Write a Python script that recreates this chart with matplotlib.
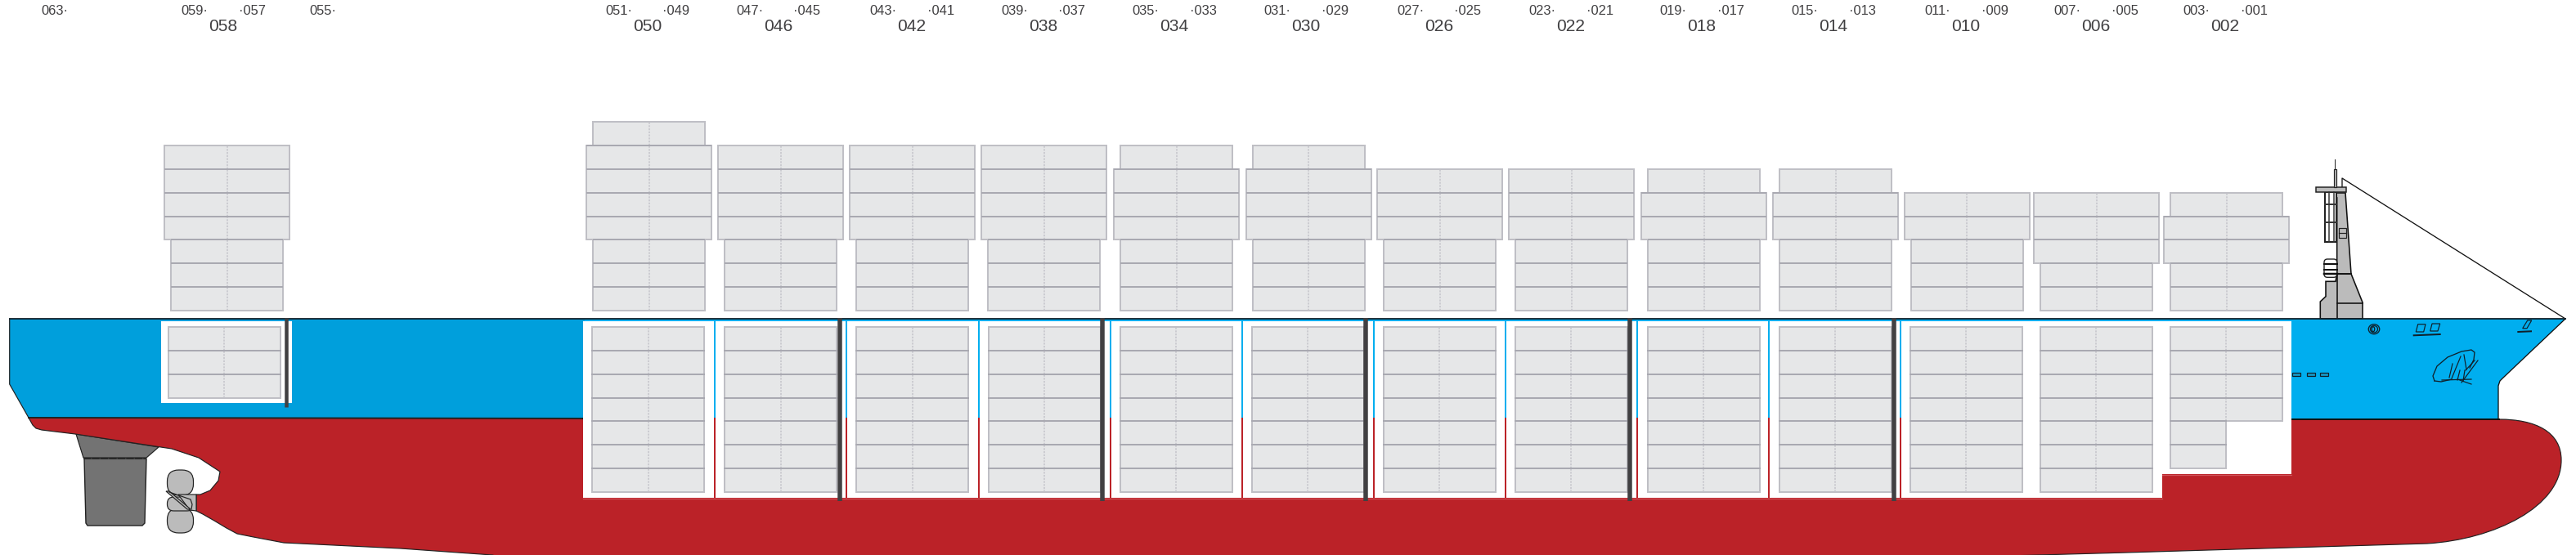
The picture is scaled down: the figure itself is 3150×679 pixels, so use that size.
"""Container ship bay plan, side profile."""

import matplotlib

matplotlib.use("Agg")

import matplotlib.pyplot as plt
from matplotlib.patches import Ellipse, FancyBboxPatch, PathPatch, Polygon, Rectangle
from matplotlib.path import Path

plt.rcParams["font.family"] = ["Liberation Sans", "DejaVu Sans"]

# bays, aft to fore
bay_labels = ["058", "050", "046", "042", "038", "034", "030", "026", "022", "018", "014", "010", "006", "002"]
left_labels = ["059", "051", "047", "043", "039", "035", "031", "027", "023", "019", "015", "011", "007", "003"]
right_labels = ["057", "049", "045", "041", "037", "033", "029", "025", "021", "017", "013", "009", "005", "001"]
extra_labels = ["063", "055"]

# containers on deck: narrow tiers, wide tiers, narrow tiers on top
deck_lower = [3, 3, 3, 3, 3, 3, 3, 3, 3, 3, 3, 3, 2, 2]
deck_wide = [4, 4, 4, 4, 4, 3, 3, 3, 3, 2, 2, 2, 3, 2]
deck_top = [0, 1, 0, 0, 0, 1, 1, 0, 0, 1, 1, 0, 0, 1]
# containers in the hold, full width and half width
hold_full = [3, 7, 7, 7, 7, 7, 7, 7, 7, 7, 7, 7, 7, 4]
hold_half = [0, 0, 0, 0, 0, 0, 0, 0, 0, 0, 0, 0, 0, 2]

# geometry, in pixels of the 3150x679 picture
label_x = [273, 792, 952, 1115, 1276, 1436, 1597, 1760, 1921, 2081, 2242, 2404, 2563, 2721]
extra_x = [67, 395]
deck_x = [277.5, 793.5, 954.5, 1115.5, 1276.5, 1438.5, 1600, 1760.5, 1921.5, 2083.5, 2244.5, 2405, 2563.5, 2722.5]
hold_x = [274, 792.5, 954.5, 1115.5, 1277, 1438, 1599, 1760, 1921, 2083, 2244, 2404, 2563, 2722]
separator_x = [874, 1035, 1197, 1358, 1519, 1680, 1841, 2002, 2163, 2324]
bulkhead_x = [1027, 1348, 1670, 1993, 2316]

stern_hull = [(35, 511), (40, 520), (44, 524), (51, 526), (92, 531), (190, 546), (210, 549), (243, 560),
              (269, 577), (267, 588), (257, 600), (245, 605), (240, 605), (240, 625), (248, 629),
              (262, 637), (277, 646), (290, 653), (310, 657), (347, 664), (490, 671), (602, 679),
              (640, 690), (2100, 690), (2600, 676), (2968, 665)]
stern_blue = [(11.7, 390), (715, 390), (715, 512), (35, 511), (11.7, 470)]
bow_blue = [(715, 390), (3137, 390), (3060, 463), (3057, 466), (3055, 472), (3055, 513), (715, 512)]
rudder_horn = [(93, 531), (194, 547), (179, 560), (102, 560)]
rudder_blade = [(103, 561), (179, 561), (177, 640), (174, 643), (107, 643), (105, 640)]

BLUE_AFT = "#009FDC"
BLUE_FORE = "#00AEEF"
RED = "#BB2228"
GREY = "#BBBBBB"
DARK = "#414042"
BOX_FILL = "#E6E7E8"
BOX_EDGE = "#BFBFC5"
TIER_LINE = "#A9A9B1"
PX = 0.72

TIER = 28.85
DECK_BASE = 380
HOLD_TOP = 400
NARROW = 137
WIDE = 153


def draw_stack(ax, tiers, center, base):
    """tiers is a list of widths from the bottom upwards."""
    y = base
    lines = []
    for n, width in enumerate(tiers):
        ax.add_patch(Rectangle((center - width / 2, y - TIER), width, TIER, fc=BOX_FILL, ec=BOX_EDGE, lw=2 * PX, zorder=5))
        ax.plot([center, center], [y, y - TIER], color="#C4C4CA", lw=1.5 * PX, ls=(0, (1.5, 1)), zorder=6)
        y -= TIER
        if n < len(tiers) - 1:
            lines.append((y, center - width / 2, center + width / 2))
    for line_y, x0, x1 in lines:
        ax.plot([x0, x1], [line_y, line_y], color=TIER_LINE, lw=2 * PX, solid_capstyle="butt", zorder=7)


fig = plt.figure(figsize=(31.5, 6.79), dpi=100)
ax = fig.add_axes([0, 0, 1, 1])
ax.set_xlim(0, 3150)
ax.set_ylim(679, 0)
ax.axis("off")

# hull
ax.add_patch(Polygon(rudder_horn, fc="#737373", ec="#222222", lw=1.2 * PX, zorder=1))
ax.add_patch(Polygon(rudder_blade, fc="#737373", ec="#222222", lw=1.4 * PX, zorder=1))
ax.plot([102, 179], [561, 561], color="#222222", lw=1.5 * PX, ls=(0, (6, 1)), zorder=2)

verts = list(stern_hull)
codes = [Path.MOVETO] + [Path.LINETO] * (len(stern_hull) - 1)
verts += [(3050, 660), (3132, 620), (3132, 563), (3132, 528), (3100, 513), (3056, 513), (35, 511)]
codes += [Path.CURVE4] * 6 + [Path.LINETO]
ax.add_patch(PathPatch(Path(verts, codes), fc=RED, ec="#222222", lw=1.2 * PX, zorder=2))
ax.add_patch(Polygon(bow_blue, fc=BLUE_FORE, ec="none", zorder=2))
ax.add_patch(Polygon(stern_blue, fc=BLUE_AFT, ec="none", zorder=2))
ax.plot([11.7, 11.7, 35], [390, 470, 511], color="#222222", lw=1.2 * PX, zorder=3)
ax.plot([3137, 3060, 3057, 3055, 3055], [390, 463, 466, 472, 513], color="#111111", lw=1.3 * PX, zorder=3)
ax.plot([35, 715], [511, 512], color="#222222", lw=2 * PX, zorder=3)
ax.plot([2802, 3056], [513, 513], color="#111111", lw=2 * PX, zorder=3)
ax.plot([11.7, 3137], [390, 390], color="#10202A", lw=1.8 * PX, zorder=8)

# cut-outs for the holds
ax.add_patch(Polygon([(197, 393), (357, 393), (357, 493), (197, 493)], fc="white", ec="none", zorder=3))
ax.add_patch(Polygon([(713, 393), (2802, 393), (2802, 580), (2644, 580), (2644, 609), (713, 609)],
                     fc="white", ec="none", zorder=3))
for x in separator_x:
    ax.plot([x, x], [393, 511], color=BLUE_FORE, lw=2 * PX, solid_capstyle="butt", zorder=4)
    ax.plot([x, x], [511, 609], color=RED, lw=2 * PX, solid_capstyle="butt", zorder=4)
ax.plot([713, 2644], [609.5, 609.5], color="#D0565B", lw=1.2 * PX, zorder=4)
ax.plot([2644, 2802], [580.5, 580.5], color="#D0565B", lw=1.2 * PX, zorder=4)
ax.plot([350, 350], [389, 498], color=DARK, lw=4.5 * PX, solid_capstyle="butt", zorder=8)
for x in bulkhead_x:
    ax.plot([x, x], [389, 613], color=DARK, lw=5.5 * PX, solid_capstyle="butt", zorder=8)

# containers
for i in range(len(bay_labels)):
    widths = [NARROW] * deck_lower[i] + [WIDE] * deck_wide[i] + [NARROW] * deck_top[i]
    draw_stack(ax, widths, deck_x[i], DECK_BASE)
    for tier in range(hold_full[i]):
        y = HOLD_TOP + tier * TIER
        draw_stack(ax, [NARROW], hold_x[i], y + TIER)
        if tier:
            ax.plot([hold_x[i] - NARROW / 2, hold_x[i] + NARROW / 2], [y, y], color=TIER_LINE, lw=2 * PX, zorder=7)
    for tier in range(hold_half[i]):
        y = HOLD_TOP + (hold_full[i] + tier) * TIER
        ax.add_patch(Rectangle((hold_x[i] - NARROW / 2, y), NARROW / 2, TIER, fc=BOX_FILL, ec=BOX_EDGE, lw=2 * PX, zorder=5))
        ax.plot([hold_x[i] - NARROW / 2, hold_x[i]], [y, y], color=TIER_LINE, lw=2 * PX, zorder=7)

# propeller
for y0, h, rounding in ((575, 31, 14), (622, 30, 14), (608, 17, 8)):
    ax.add_patch(FancyBboxPatch((204.5, y0), 32, h, boxstyle=f"round,pad=0,rounding_size={rounding}",
                                fc=GREY, ec="#222222", lw=1.2 * PX, zorder=3))
ax.add_patch(Polygon([(218, 605), (240, 605), (240, 625), (232, 624)], fc=GREY, ec="#222222", lw=1.2 * PX, zorder=4))
ax.add_patch(Polygon([(203, 601), (207, 601), (233, 623), (229, 623)], fc=GREY, ec="#222222", lw=1.2 * PX, zorder=4))
ax.plot([207, 233, 235, 234], [602, 611, 617, 623], color="#222222", lw=1.2 * PX, zorder=5)

# forward mast and breakwater
ax.add_patch(Polygon([(2837.3, 390), (2837.3, 369), (2844, 362.7), (2844, 344.3), (2856, 344.3), (2857.7, 335),
                      (2875, 335), (2889, 370), (2889, 390)], fc=GREY, ec="#111111", lw=1.6 * PX, zorder=3))
ax.plot([2857.7, 2857.7], [335, 390], color="#111111", lw=1.6 * PX, zorder=4)
ax.plot([2857.7, 2889], [370.7, 370.7], color="#111111", lw=1.6 * PX, zorder=4)
ax.plot([2857.7, 2875], [335, 335], color="#111111", lw=1.6 * PX, zorder=4)
ax.add_patch(Polygon([(2857.7, 335), (2857.7, 241.7), (2853, 236), (2868, 236), (2875, 335)],
                     fc=GREY, ec="#111111", lw=1.6 * PX, zorder=3))
ax.add_patch(Rectangle((2831.7, 229.3), 37.7, 6, fc=GREY, ec="#222222", lw=1.5 * PX, zorder=4))
ax.add_patch(Rectangle((2853.7, 207.3), 3.6, 22, fc=GREY, ec="#222222", lw=1.2 * PX, zorder=4))
ax.plot([2855.3, 2855.3], [195, 207.3], color="#222222", lw=1 * PX, zorder=4)
ax.add_patch(Rectangle((2842.7, 235.3), 14.5, 60.7, fc="white", ec="#222222", lw=2 * PX, zorder=3))
for x in (2848.3, 2854):
    ax.plot([x, x], [235.3, 296], color="#333333", lw=1.5 * PX, zorder=4)
for y in (250, 271.7):
    ax.plot([2842.7, 2857], [y, y], color="#333333", lw=2 * PX, zorder=4)
ax.add_patch(Rectangle((2860, 279.3), 8.7, 12, fc=GREY, ec="#222222", lw=1.2 * PX, zorder=4))
ax.plot([2860, 2868.7], [285.3, 285.3], color="#222222", lw=1.2 * PX, zorder=5)
ax.add_patch(FancyBboxPatch((2842, 317), 15.7, 22.3, boxstyle="round,pad=0,rounding_size=4", fc="white",
                            ec="#222222", lw=1.4 * PX, zorder=3))
for y, lw in ((323.3, 2), (330, 2), (335, 2.5)):
    ax.plot([2842, 2857.7], [y, y], color="#111111", lw=lw * PX, zorder=4)
ax.plot([2864, 2864, 3137], [229, 218, 390], color="#111111", lw=1.3 * PX, zorder=3)

# hull details at the bow
for rx, ry in ((13.5, 12), (9, 8.5)):
    ax.add_patch(Ellipse((2903, 402.7), rx, ry, fc="none", ec="#10202A", lw=1.3 * PX, zorder=4))
ax.add_patch(Ellipse((2902, 402.7), 3.5, 6, fc="none", ec="#10202A", lw=1.3 * PX, zorder=4))
for box in ([(2954.3, 406), (2956.7, 396.7), (2966, 396.7), (2963.7, 406)],
            [(2971.7, 405), (2974, 396), (2983.7, 396), (2981, 405)],
            [(3084.7, 401.7), (3090.7, 392), (3095.7, 392), (3090, 401.7)]):
    ax.add_patch(Polygon(box, fc="none", ec="#10202A", lw=1.2 * PX, zorder=4))
ax.plot([2951.7, 2983.7], [410.3, 409], color="#10202A", lw=2 * PX, zorder=4)
ax.plot([3079.3, 3095], [406, 405.3], color="#10202A", lw=2 * PX, zorder=4)
for x in (2803.3, 2820.7, 2837.3):
    ax.add_patch(Rectangle((x, 456.3), 10, 4, fc="#1597C4", ec="#10202A", lw=1.2 * PX, zorder=4))

anchor_outline = [(2977, 466), (2975, 460), (2980, 448), (2993, 437), (3010, 430), (3022, 428), (3026, 431),
                  (3025, 440), (3020, 450)]
ax.plot(*zip(*anchor_outline), color="#10202A", lw=1.3 * PX, zorder=4)
ax.plot([2977, 2985, 2998], [466, 467, 464], color="#10202A", lw=1.3 * PX, zorder=4)
for seg in ([(2986, 465), (3022, 464)], [(3005, 464), (3022, 470)], [(2998, 463), (3009, 436)],
            [(3013, 434), (3016, 452)], [(3015, 453), (3026, 441)], [(3010, 468), (3030, 441)],
            [(3008, 453), (3005, 465)], [(3014, 453), (3012, 466)], [(2999, 445), (2995, 462)]):
    ax.plot(*zip(*seg), color="#10202A", lw=1.2 * PX, zorder=4)

# labels
for i, label in enumerate(bay_labels):
    ax.text(label_x[i], 32, label, fontsize=21 * PX, color="#414042", ha="center", va="center", zorder=9)
    ax.text(label_x[i] - 35, 13.5, left_labels[i] + "·", fontsize=16.5 * PX, color="#414042", ha="center", va="center", zorder=9)
    ax.text(label_x[i] + 35, 13.5, "·" + right_labels[i], fontsize=16.5 * PX, color="#414042", ha="center", va="center", zorder=9)
for x, label in zip(extra_x, extra_labels):
    ax.text(x, 13.5, label + "·", fontsize=16.5 * PX, color="#414042", ha="center", va="center", zorder=9)

fig.savefig("out.png", dpi=100, facecolor="white")
plt.close(fig)
